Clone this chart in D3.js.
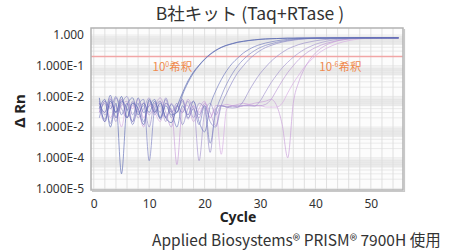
<!DOCTYPE html>
<html><head><meta charset="utf-8">
<script src="https://cdn.jsdelivr.net/npm/d3@7"></script>
<style>html,body{margin:0;padding:0;background:#fff;}svg{display:block;}</style>
</head><body><svg id="c" width="454" height="252"></svg>
<script>
// ---- data ----
const titleText = "B社キット (Taq+RTase )";
const xLabel = "Cycle";
const yLabel = "Δ Rn";
const footer = "Applied Biosystems® PRISM® 7900H 使用";
const xTicks = [0, 10, 20, 30, 40, 50];
const yTickValues = [1, 1e-1, 1e-2, 1e-3, 1e-4, 1e-5];
const yTickLabels = ["1.000", "1.000E-1", "1.000E-2", "1.000E-2", "1.000E-4", "1.000E-5"];
const threshold = 0.2;
const firstCycle = 1;
// ΔRn per cycle, starting at cycle 1
const s1 = [9e-3,1.5e-3,7e-3,3e-3,1e-2,2e-3,6e-3,4e-3,1.2e-3,8e-3,3e-3,6e-3,2e-3,1.4e-3,
  4.5e-3,1.3e-2,3.2e-2,6.3e-2,0.105,0.165,0.24,0.32,0.4,0.47,0.53,0.59,0.63,0.67,0.7,0.73,0.75,0.76,0.77,0.78,0.79,0.79,0.8,
  0.8,0.8,0.8,0.8,0.8,0.81,0.81,0.81,0.81,0.81,0.81,0.81,0.81,0.81,0.81,0.81,0.81,0.81];
const s2 = [4e-3,8e-3,1e-3,6e-3,3e-5,5e-3,9e-3,2.5e-3,6e-3,3e-3,7e-3,1.8e-3,5e-3,2.5e-3,
  3e-3,1.1e-2,2.8e-2,5.8e-2,0.1,0.16,0.23,0.31,0.39,0.46,0.52,0.58,0.62,0.66,0.69,0.72,0.74,0.76,0.77,0.78,0.79,0.79,0.8,
  0.8,0.8,0.8,0.8,0.8,0.8,0.81,0.81,0.81,0.81,0.81,0.81,0.81,0.81,0.81,0.81,0.81,0.81];
const s3 = [6e-3,3e-3,1.1e-2,2e-3,7e-3,4e-3,1.5e-3,9e-3,3e-3,5e-3,8e-3,2e-3,6e-3,3.5e-3,1e-3,5e-3,2.5e-3,7e-3,1.5e-3,
  7e-4,5e-3,1.5e-2,3.5e-2,7e-2,0.12,0.18,0.26,0.34,0.42,0.49,0.55,0.6,0.65,0.69,0.72,0.75,0.77,0.78,0.79,0.8,
  0.8,0.8,0.8,0.8,0.81,0.81,0.81,0.81,0.81,0.81,0.81,0.81,0.81,0.81,0.81];
const s4 = [2e-3,7e-3,4e-3,1e-2,2.5e-3,6e-3,1.2e-3,5e-3,8e-3,8e-5,4e-3,7e-3,2e-3,5.5e-3,3e-3,8e-3,2e-3,4e-3,1.2e-3,5e-3,
  3e-4,3e-3,1e-2,2.6e-2,5.5e-2,0.1,0.16,0.23,0.31,0.39,0.46,0.52,0.58,0.63,0.67,0.71,0.74,0.76,0.78,0.79,0.8,
  0.8,0.8,0.8,0.8,0.81,0.81,0.81,0.81,0.81,0.81,0.81,0.81,0.81,0.81];
const s5 = [5e-3,1.8e-3,8e-3,3e-3,6e-3,1e-2,2.5e-3,6e-3,1.5e-3,7e-3,4e-3,2e-3,9e-3,3e-3,6e-3,1.2e-3,4e-3,7e-3,2.5e-3,5e-3,1.5e-3,
  1e-3,5e-3,1.3e-2,3e-2,6e-2,0.1,0.16,0.23,0.31,0.39,0.46,0.53,0.59,0.64,0.68,0.72,0.75,0.77,0.78,0.79,0.8,
  0.8,0.8,0.8,0.8,0.81,0.81,0.81,0.81,0.81,0.81,0.81,0.81,0.81];
const s6 = [3e-3,6e-3,1.3e-3,9e-3,4e-3,2e-3,7e-3,3e-3,5e-3,1e-3,6e-3,3e-3,8e-3,2e-3,5e-3,3e-3,7e-3,2e-3,6e-3,4e-3,1.5e-4,4e-3,5e-3,4.5e-3,4.2e-3,4.5e-3,
  7e-3,1.5e-2,3e-2,5.5e-2,9e-2,0.14,0.2,0.27,0.35,0.42,0.49,0.55,0.6,0.65,0.69,0.72,0.75,0.77,0.78,0.79,0.8,
  0.8,0.8,0.81,0.81,0.81,0.81,0.81,0.81];
const s7 = [7e-3,2.5e-3,5e-3,1.5e-3,8e-3,3.5e-3,6e-3,2e-3,4e-3,9e-3,2.5e-3,5e-3,1.5e-3,6e-3,3e-3,7e-3,1.8e-3,5e-3,8e-5,3e-3,6e-3,2.5e-3,5e-3,4.5e-3,4.8e-3,5e-3,5e-3,5e-3,4.8e-3,
  7e-3,1.4e-2,2.8e-2,5e-2,8.5e-2,0.13,0.19,0.26,0.34,0.42,0.5,0.57,0.63,0.68,0.72,0.75,0.77,0.79,0.8,
  0.8,0.8,0.81,0.81,0.81,0.81,0.81];
const s8 = [4e-3,1.5e-3,6e-3,3e-3,8e-3,2e-3,5e-3,3.5e-3,1e-3,6e-3,3e-3,7e-3,2e-3,4e-3,6e-5,4e-3,5e-3,1.5e-3,4e-3,7e-3,2e-3,5e-3,5e-3,5.5e-3,5e-3,5.5e-3,6e-3,5.5e-3,6e-3,6.5e-3,7e-3,8e-3,
  5e-3,1.2e-3,1e-4,6e-3,3e-2,8e-2,0.16,0.26,0.37,0.48,0.57,0.65,0.71,0.75,0.78,0.8,
  0.8,0.8,0.81,0.81,0.81,0.81,0.81];
const s9 = [6e-3,3e-3,9e-3,2e-3,5e-3,7e-3,1.5e-3,4e-3,6e-3,2.5e-3,5e-3,9e-3,3e-3,1e-3,5e-3,3e-3,8e-3,4e-3,2e-3,6e-3,3e-3,1.1e-3,5e-3,4.5e-3,5e-3,4.5e-3,5e-3,5e-3,5e-3,5e-3,5.5e-3,
  8e-3,1.6e-2,3.2e-2,6e-2,0.1,0.16,0.23,0.31,0.39,0.47,0.54,0.6,0.66,0.7,0.74,0.77,0.79,0.8,
  0.8,0.8,0.81,0.81,0.81,0.81];
const s10 = [3e-3,7e-3,2e-3,5e-3,1e-3,6e-3,4e-3,8e-3,2e-3,5e-3,3e-3,1.5e-3,6e-3,3e-3,5e-3,8e-3,2.5e-3,5e-3,3e-3,6e-3,2e-3,4e-3,1.3e-4,4e-3,5e-3,4.5e-3,5e-3,5.5e-3,5e-3,5e-3,4.5e-3,4.5e-3,4.5e-3,
  6e-3,1.3e-2,2.7e-2,5e-2,9e-2,0.14,0.21,0.29,0.37,0.45,0.53,0.6,0.66,0.71,0.75,0.78,0.8,
  0.8,0.8,0.81,0.81,0.81];
const seriesList = [s10, s9, s8, s7, s6, s5, s4, s3, s2, s1];
const seriesColors = ["#d6ade3", "#bb98d4", "#c9a0da", "#a796d0", "#9a8fca", "#8d89c8", "#8084c4", "#727bbd", "#6370b6", "#5565b0"];
const annotations = [
  {base: "10", exp: "0", rest: "希釈", cycle: 10.6},
  {base: "10", exp: "-6", rest: "希釈", cycle: 40.7}
];

// ---- chart ----
const svg = d3.select("#c");
const L = 91, R = 403, T = 28, B = 190;
const x = d3.scaleLinear().domain([-0.5, 55.8]).range([L, R]);
const y = d3.scaleLog().domain([Math.pow(10, -5.05), Math.pow(10, 0.23)]).range([B, T]);

const g = svg.append("g");
g.append("rect").attr("x", L).attr("y", T).attr("width", R - L).attr("height", B - T).attr("fill", "#fcfcfc");
// gray bands below each decade
const decades = [1, 1e-1, 1e-2, 1e-3, 1e-4];
g.selectAll("rect.band").data(decades).join("rect").attr("class", "band")
  .attr("x", L).attr("width", R - L)
  .attr("y", d => y(d * 0.85)).attr("height", d => y(d * 0.5) - y(d * 0.85))
  .attr("fill", "#ebebeb");
// minor horizontal grid
const minor = [];
[1e-5, 1e-4, 1e-3, 1e-2, 1e-1, 1].forEach(dec => { for (let k = 1; k <= 9; k++) { const v = dec * k; if (v <= Math.pow(10, 0.23)) minor.push(v); } });
g.selectAll("line.hg").data(minor).join("line").attr("class", "hg")
  .attr("x1", L).attr("x2", R).attr("y1", d => y(d)).attr("y2", d => y(d))
  .attr("stroke", "#e4e4e4").attr("stroke-width", 0.8);
// vertical grid
g.selectAll("line.vg").data(d3.range(0, 56, 2)).join("line").attr("class", "vg")
  .attr("x1", d => x(d)).attr("x2", d => x(d)).attr("y1", T).attr("y2", B)
  .attr("stroke", "#dcdcdc").attr("stroke-width", 0.9);

// threshold
g.append("line").attr("x1", L).attr("x2", R).attr("y1", y(threshold)).attr("y2", y(threshold))
  .attr("stroke", "#f1a6a6").attr("stroke-width", 1.3);

// annotations
annotations.forEach(a => {
  const t = g.append("text").attr("x", x(a.cycle)).attr("y", 71)
    .attr("font-family", "'Noto Sans CJK JP', 'Noto Sans', sans-serif").attr("font-size", 11.5)
    .attr("fill", "#f0894c");
  t.append("tspan").text(a.base);
  t.append("tspan").text(a.exp).attr("font-size", 7).attr("dy", -4.5);
  t.append("tspan").text(a.rest).attr("dy", 4.5);
});

// curves
const line = d3.line().x((d, i) => x(i + firstCycle)).y(d => y(d)).curve(d3.curveMonotoneX);
g.selectAll("path.s").data(seriesList).join("path").attr("class", "s")
  .attr("d", d => line(d)).attr("fill", "none")
  .attr("stroke", (d, i) => seriesColors[i]).attr("stroke-width", 0.9).attr("stroke-opacity", 0.75);

// frame
g.append("rect").attr("x", L).attr("y", T).attr("width", R - L).attr("height", B - T)
  .attr("fill", "none").attr("stroke", "#b3b3b3").attr("stroke-width", 1.5);
g.append("path").attr("d", `M${L + 1},${B + 1.5}H${R + 1.5}V${T + 1}`).attr("fill", "none")
  .attr("stroke", "#c8c8c8").attr("stroke-width", 1.2);

// axes
const font = "'Noto Sans', 'Open Sans', sans-serif";
const xAxis = d3.axisBottom(x).tickValues(xTicks).tickSize(0).tickPadding(9);
const xa = svg.append("g").attr("transform", `translate(0,${B})`).call(xAxis);
xa.select(".domain").remove();
xa.selectAll("text").attr("font-family", font).attr("font-size", 12).attr("fill", "#333");

const yAxis = d3.axisLeft(y).tickValues(yTickValues).tickFormat((d, i) => yTickLabels[i]).tickSize(0).tickPadding(7);
const ya = svg.append("g").attr("transform", `translate(${L},0)`).call(yAxis);
ya.select(".domain").remove();
ya.selectAll("text").attr("font-family", font).attr("font-size", 12).attr("fill", "#333");

// titles
svg.append("text").attr("x", 250).attr("y", 20).attr("text-anchor", "middle")
  .attr("font-family", "'Noto Sans CJK JP', sans-serif").attr("font-size", 17.5).attr("fill", "#333").text(titleText);
svg.append("text").attr("x", 238).attr("y", 222).attr("text-anchor", "middle")
  .attr("font-family", font).attr("font-weight", "bold").attr("font-size", 14).attr("fill", "#222").text(xLabel);
svg.append("text").attr("transform", "translate(25,111) rotate(-90)").attr("text-anchor", "middle")
  .attr("font-family", font).attr("font-weight", "bold").attr("font-size", 15).attr("fill", "#222").text(yLabel);
svg.append("text").attr("x", 152).attr("y", 245.5)
  .attr("font-family", "'Noto Sans CJK JP', 'Noto Sans', sans-serif").attr("font-size", 15.5).attr("fill", "#333").text(footer);
</script></body></html>
